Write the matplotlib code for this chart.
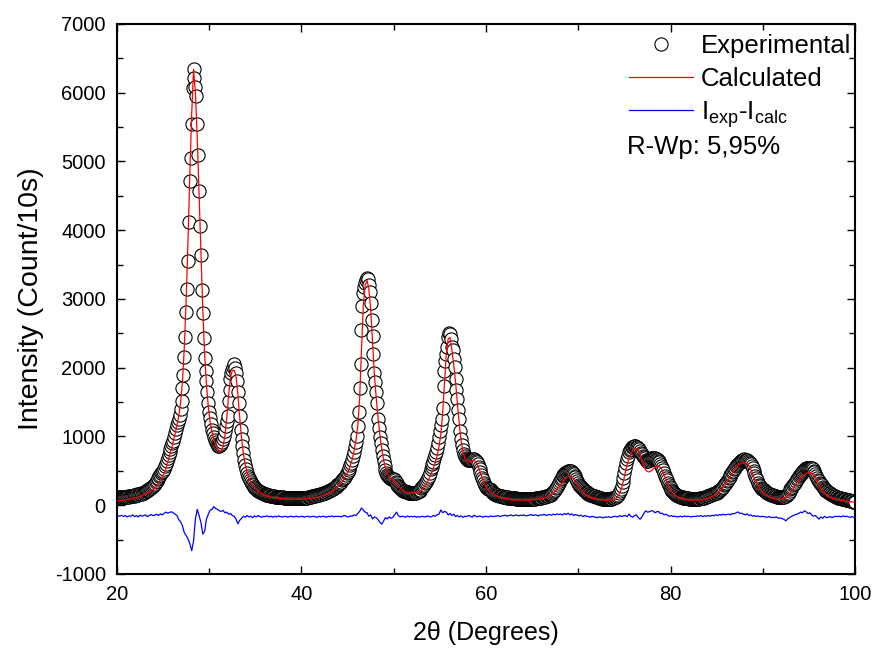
import numpy as np
import matplotlib
matplotlib.use("Agg")
import matplotlib.pyplot as plt
from matplotlib.ticker import MultipleLocator

plt.rcParams['font.family'] = ['Liberation Sans', 'DejaVu Sans']
plt.rcParams['mathtext.fontset'] = 'custom'
plt.rcParams['mathtext.rm'] = 'Liberation Sans'
plt.rcParams['mathtext.it'] = 'Liberation Sans'
plt.rcParams['axes.unicode_minus'] = False

# ---------------- data ----------------
# experimental scan: 20.0 .. 100.0 deg, step 0.1 deg
two_theta_exp = np.linspace(20.0, 100.0, 801)
i_exp = [
    110, 114, 106, 115, 118, 109, 120, 113, 122, 117,
    125, 121, 130, 126, 135, 131, 140, 136, 145, 141,
    150, 146, 158, 155, 165, 161, 172, 169, 180, 184,
    195, 203, 210, 219, 228, 236, 248, 256, 270, 283,
    300, 312, 335, 352, 378, 395, 420, 436, 462, 480,
    500, 528, 570, 606, 650, 688, 730, 772, 820, 862,
    905, 940, 990, 1050, 1110, 1160, 1210, 1260, 1310, 1400,
    1510, 1700, 1900, 2150, 2450, 2810, 3150, 3550, 4120, 4720,
    5050, 5540, 6070, 6350, 6210, 6090, 5950, 5540, 5090, 4570,
    4060, 3640, 3130, 2790, 2430, 2140, 1950, 1800, 1640, 1490,
    1360, 1270, 1180, 1100, 1050, 990, 950, 920, 890, 880,
    865, 860, 870, 890, 920, 960, 1010, 1080, 1150, 1220,
    1300, 1510, 1680, 1830, 1920, 1970, 2010, 2050, 1990, 1930,
    1800, 1650, 1490, 1300, 1100, 970, 860, 760, 660, 580,
    520, 470, 430, 395, 360, 335, 310, 290, 272, 258,
    244, 230, 222, 210, 203, 195, 189, 180, 176, 170,
    165, 158, 155, 150, 148, 142, 140, 137, 135, 131,
    130, 127, 126, 122, 121, 118, 119, 115, 116, 113,
    114, 111, 112, 109, 110, 108, 109, 106, 108, 105,
    106, 104, 105, 103, 105, 102, 104, 101, 103, 102,
    100, 104, 103, 107, 108, 112, 111, 116, 118, 122,
    124, 128, 130, 134, 136, 140, 142, 146, 149, 154,
    157, 162, 165, 171, 175, 181, 185, 192, 197, 204,
    210, 218, 224, 233, 240, 250, 258, 269, 279, 291,
    302, 316, 329, 345, 360, 378, 395, 416, 437, 462,
    487, 516, 546, 581, 617, 660, 710, 770, 840, 920,
    1010, 1150, 1350, 1700, 2050, 2550, 2900, 3080, 3170, 3230,
    3270, 3300, 3290, 3210, 3100, 2940, 2700, 2460, 2200, 1930,
    1790, 1640, 1480, 1250, 1120, 990, 900, 800, 715, 640,
    570, 510, 470, 440, 420, 405, 395, 385, 380, 378,
    377, 360, 340, 320, 300, 280, 262, 245, 232, 222,
    214, 207, 200, 195, 190, 187, 184, 182, 180, 179,
    178, 177, 180, 181, 185, 189, 196, 203, 214, 226,
    245, 262, 280, 300, 320, 345, 370, 400, 430, 470,
    520, 555, 595, 635, 680, 725, 770, 830, 900, 990,
    1080, 1160, 1260, 1420, 1730, 1950, 2100, 2200, 2300, 2440,
    2500, 2490, 2420, 2300, 2260, 2120, 2010, 1830, 1680, 1540,
    1390, 1250, 1080, 960, 880, 810, 750, 715, 690, 675,
    665, 660, 655, 655, 660, 665, 670, 670, 665, 650,
    630, 600, 560, 520, 480, 440, 400, 360, 325, 290,
    265, 250, 240, 235, 232, 220, 205, 190, 178, 168,
    160, 153, 147, 142, 138, 135, 132, 128, 125, 122,
    120, 116, 117, 112, 113, 109, 110, 105, 106, 102,
    103, 98, 100, 95, 97, 92, 95, 90, 93, 89,
    91, 87, 90, 86, 89, 88, 91, 87, 92, 90,
    93, 91, 96, 95, 99, 100, 104, 103, 108, 110,
    112, 115, 119, 122, 127, 131, 136, 140, 146, 150,
    155, 165, 177, 191, 207, 226, 247, 270, 295, 325,
    355, 380, 400, 420, 440, 455, 470, 480, 488, 493,
    497, 497, 493, 485, 470, 450, 428, 405, 380, 355,
    320, 300, 280, 260, 245, 230, 218, 208, 198, 188,
    178, 170, 162, 155, 148, 142, 138, 135, 130, 126,
    122, 117, 112, 107, 102, 98, 95, 92, 90, 88,
    87, 86, 87, 88, 90, 92, 95, 98, 102, 107,
    113, 122, 135, 152, 175, 205, 240, 285, 335, 400,
    474, 540, 610, 667, 720, 770, 800, 825, 840, 852,
    860, 862, 860, 852, 840, 830, 815, 790, 760, 740,
    720, 700, 680, 662, 650, 643, 645, 655, 670, 682,
    690, 692, 690, 680, 672, 667, 660, 645, 625, 600,
    575, 545, 510, 470, 430, 395, 360, 330, 300, 270,
    245, 225, 205, 190, 175, 163, 152, 143, 136, 130,
    125, 120, 116, 113, 110, 107, 105, 103, 101, 99,
    97, 96, 95, 94, 93, 92, 92, 92, 93, 94,
    95, 97, 99, 101, 104, 107, 110, 114, 118, 123,
    128, 133, 139, 145, 151, 157, 163, 168, 173, 177,
    182, 190, 200, 212, 225, 240, 255, 270, 290, 310,
    330, 350, 370, 392, 415, 435, 455, 480, 500, 520,
    545, 565, 585, 605, 620, 635, 645, 655, 660, 665,
    667, 665, 660, 652, 642, 630, 615, 595, 570, 545,
    500, 470, 430, 395, 360, 330, 300, 275, 252, 240,
    230, 215, 205, 195, 188, 182, 175, 168, 160, 153,
    147, 142, 137, 133, 129, 125, 122, 120, 118, 116,
    115, 117, 120, 125, 132, 141, 152, 166, 183, 205,
    230, 250, 270, 290, 310, 330, 350, 375, 400, 425,
    440, 455, 470, 485, 500, 515, 525, 535, 540, 545,
    546, 548, 545, 538, 525, 505, 480, 455, 425, 395,
    370, 350, 330, 310, 290, 270, 250, 232, 218, 210,
    205, 195, 185, 175, 165, 155, 145, 138, 130, 124,
    118, 114, 110, 106, 102, 98, 95, 92, 89, 86,
    83, 80, 77, 74, 70, 66, 62, 58, 54, 50,
    45,
]

# calculated profile and difference curve: 20.1 .. 99.9 deg, step 0.2 deg
two_theta_calc = np.linspace(20.1, 99.9, 400)
i_calc = [
    62, 65, 69, 73, 77,
    82, 87, 93, 99, 105,
    112, 120, 130, 140, 152,
    165, 178, 192, 208, 228,
    250, 285, 325, 370, 415,
    460, 540, 630, 720, 820,
    930, 1040, 1160, 1300, 1500,
    1800, 2300, 3000, 3850, 4850,
    5700, 6340, 6000, 5350, 4500,
    3650, 2850, 2200, 1750, 1430,
    1200, 1060, 960, 880, 820,
    780, 790, 860, 1010, 1270,
    1600, 1860, 1960, 1965, 1880,
    1620, 1280, 980, 750, 590,
    480, 400, 340, 295, 260,
    230, 205, 185, 168, 155,
    144, 134, 126, 119, 113,
    108, 104, 100, 97, 95,
    93, 91, 90, 89, 88,
    87, 87, 87, 87, 87,
    88, 90, 92, 95, 98,
    101, 105, 110, 116, 123,
    132, 140, 150, 160, 167,
    175, 195, 218, 243, 270,
    295, 320, 355, 400, 455,
    510, 580, 670, 790, 940,
    1150, 1550, 2250, 2900, 3200,
    3270, 3150, 2850, 2380, 1900,
    1560, 1270, 1020, 820, 660,
    540, 460, 410, 380, 360,
    340, 310, 280, 250, 225,
    205, 192, 184, 180, 178,
    177, 178, 181, 188, 205,
    230, 265, 305, 350, 410,
    470, 540, 620, 720, 850,
    1030, 1330, 1780, 2200, 2420,
    2440, 2260, 2050, 1790, 1490,
    1180, 940, 780, 690, 650,
    630, 630, 645, 655, 630,
    580, 510, 430, 360, 300,
    250, 215, 190, 170, 155,
    140, 128, 118, 110, 103,
    97, 92, 88, 85, 82,
    80, 78, 77, 76, 75,
    75, 75, 76, 77, 78,
    80, 82, 85, 88, 91,
    95, 103, 112, 125, 140,
    158, 180, 205, 235, 270,
    305, 340, 375, 405, 422,
    425, 410, 380, 340, 295,
    255, 220, 190, 165, 145,
    128, 115, 105, 97, 91,
    86, 82, 79, 77, 76,
    75, 76, 78, 81, 85,
    100, 130, 180, 250, 350,
    480, 590, 680, 750, 795,
    815, 821, 800, 740, 650,
    570, 515, 490, 484, 500,
    525, 550, 565, 570, 550,
    510, 450, 380, 310, 250,
    205, 170, 145, 127, 113,
    103, 95, 89, 84, 80,
    77, 75, 74, 74, 75,
    77, 80, 84, 89, 95,
    105, 115, 126, 140, 158,
    180, 205, 235, 265, 300,
    335, 375, 420, 465, 510,
    550, 580, 600, 612, 618,
    619, 605, 575, 520, 450,
    390, 330, 280, 240, 205,
    178, 155, 137, 122, 110,
    100, 93, 88, 85, 83,
    88, 96, 110, 130, 165,
    200, 240, 280, 320, 360,
    390, 420, 445, 460, 470,
    474, 470, 440, 395, 340,
    290, 245, 205, 175, 150,
    130, 115, 104, 95, 88,
    82, 77, 72, 68, 64,
    60, 56, 52, 48, 44,
]

i_diff = [
    -150, -160, -145, -165, -150,
    -170, -155, -160, -140, -165,
    -150, -170, -145, -160, -150,
    -140, -165, -150, -135, -150,
    -145, -130, -150, -125, -140,
    -120, -100, -115, -105, -95,
    -110, -130, -150, -210, -240,
    -300, -400, -440, -490, -560,
    -662, -520, -200, -60, -150,
    -250, -420, -380, -200, -130,
    -70, -60, -20, -50, -60,
    -80, -90, -75, -110, -100,
    -130, -120, -150, -160, -200,
    -270, -220, -190, -160, -175,
    -150, -170, -160, -180, -155,
    -170, -150, -165, -175, -160,
    -165, -155, -170, -160, -175,
    -160, -170, -155, -165, -170,
    -165, -160, -175, -165, -160,
    -170, -165, -160, -170, -165,
    -160, -175, -165, -160, -170,
    -165, -160, -170, -175, -160,
    -170, -160, -165, -175, -160,
    -165, -155, -170, -160, -165,
    -160, -170, -155, -150, -165,
    -170, -155, -160, -140, -150,
    -120, -90, -40, -70, -100,
    -110, -160, -140, -200, -170,
    -180, -210, -250, -275, -230,
    -180, -200, -170, -190, -175,
    -140, -100, -150, -170, -160,
    -165, -175, -155, -170, -160,
    -170, -160, -175, -165, -170,
    -160, -170, -165, -155, -170,
    -165, -150, -160, -140, -130,
    -68, -110, -90, -100, -140,
    -120, -150, -130, -165, -150,
    -170, -155, -175, -160, -165,
    -150, -160, -175, -145, -160,
    -170, -155, -165, -175, -160,
    -165, -170, -155, -165, -160,
    -160, -150, -165, -155, -150,
    -145, -160, -150, -140, -155,
    -150, -140, -155, -145, -150,
    -140, -155, -150, -145, -135,
    -150, -140, -145, -155, -140,
    -145, -130, -150, -140, -135,
    -145, -130, -140, -125, -135,
    -130, -140, -120, -135, -116,
    -140, -125, -150, -135, -145,
    -155, -145, -165, -150, -160,
    -165, -175, -160, -170, -175,
    -180, -170, -175, -185, -170,
    -175, -165, -180, -170, -160,
    -165, -170, -150, -165, -155,
    -150, -165, -130, -160, -175,
    -150, -140, -180, -203, -170,
    -120, -82, -100, -95, -82,
    -82, -110, -95, -90, -120,
    -115, -140, -130, -150, -160,
    -150, -165, -160, -170, -165,
    -160, -170, -155, -165, -160,
    -165, -170, -160, -165, -155,
    -160, -150, -165, -155, -160,
    -150, -160, -145, -155, -140,
    -150, -135, -145, -130, -140,
    -135, -130, -140, -120, -125,
    -110, -97, -120, -115, -130,
    -140, -125, -150, -140, -160,
    -150, -165, -155, -170, -160,
    -165, -170, -175, -165, -180,
    -175, -180, -170, -190, -185,
    -195, -205, -227, -200, -180,
    -165, -150, -140, -130, -120,
    -100, -110, -82, -95, -120,
    -110, -140, -160, -150, -175,
    -203, -170, -190, -160, -180,
    -175, -165, -180, -170, -160,
    -165, -160, -170, -155, -165,
    -160, -170, -175, -165, -178,
]

x_limits = (20, 100)
y_limits = (-1000, 7000)
legend_labels = ['Experimental', 'Calculated', r'I$_{\mathrm{exp}}$-I$_{\mathrm{calc}}$']
rwp_text = 'R-Wp: 5,95%'

# ---------------- figure ----------------
fig = plt.figure(figsize=(8.73, 6.51), dpi=100)
ax = fig.add_axes([0.134, 0.1183, 0.8454, 0.8449])

h_exp, = ax.plot(two_theta_exp, i_exp, linestyle='none', marker='o', markersize=9.5,
                 markerfacecolor='white', markeredgecolor='black', markeredgewidth=0.8,
                 zorder=2)
h_calc, = ax.plot(two_theta_calc, i_calc, color='#ff0000', linewidth=0.9, zorder=3)
h_diff, = ax.plot(two_theta_calc, i_diff, color='#0000ff', linewidth=0.9, zorder=3)

ax.set_xlim(*x_limits)
ax.set_ylim(*y_limits)
ax.xaxis.set_major_locator(MultipleLocator(20))
ax.xaxis.set_minor_locator(MultipleLocator(10))
ax.yaxis.set_major_locator(MultipleLocator(1000))
ax.yaxis.set_minor_locator(MultipleLocator(500))
ax.tick_params(which='both', direction='in', top=True, right=True, width=1.0)
ax.tick_params(which='major', length=6)
ax.tick_params(which='minor', length=4)
ax.tick_params(axis='x', which='major', labelsize=14.5, pad=8)
ax.tick_params(axis='y', which='major', labelsize=14.5, pad=8)
for s in ax.spines.values():
    s.set_linewidth(1.5)

ax.set_xlabel('2θ (Degrees)', fontsize=18, labelpad=12)
ax.set_ylabel('Intensity (Count/10s)', fontsize=20.5, labelpad=8)

leg = ax.legend([h_exp, h_calc, h_diff], legend_labels, loc='upper right',
                bbox_to_anchor=(0.995, 0.981), frameon=False, fontsize=18.5,
                handlelength=2.5, handletextpad=0.3, labelspacing=0.32,
                borderpad=0, borderaxespad=0, numpoints=1)
ax.text(0.691, 0.776, rwp_text, transform=ax.transAxes, fontsize=18.5,
        ha='left', va='center')

fig.savefig('out.png', dpi=100)
